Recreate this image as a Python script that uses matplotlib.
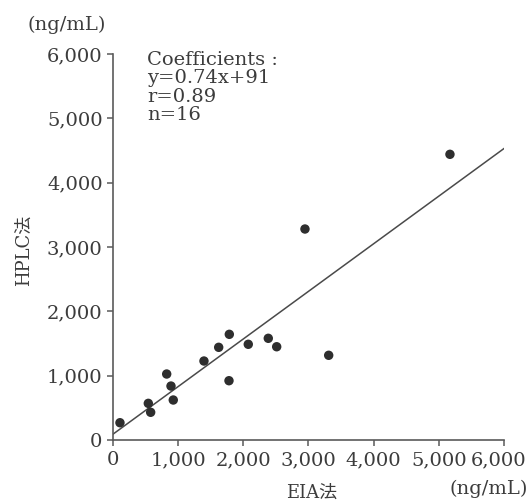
"""EIA vs HPLC method comparison scatter with regression line."""

import numpy as np
import matplotlib

matplotlib.use("Agg")
import matplotlib.pyplot as plt
import matplotlib.transforms as mtransforms

eia = [107, 542, 578, 824, 890, 925, 1396, 1622, 1785, 1780,
       2076, 2383, 2512, 3310, 2946, 5171]
hplc = [269, 570, 431, 1026, 839, 622, 1228, 1441, 1643, 922,
        1488, 1581, 1450, 1317, 3280, 4441]

slope, intercept = 0.74, 91
coef_lines = ["Coefficients :", "y=0.74x+91", "r=0.89", "n=16"]

ticks = [0, 1000, 2000, 3000, 4000, 5000, 6000]
tick_labels = ["0", "1,000", "2,000", "3,000", "4,000", "5,000", "6,000"]

ink = "#3c3c3c"
axis_col = "#5a5a5a"
fonts = ["DejaVu Serif", "Noto Sans CJK JP"]
plt.rcParams["font.family"] = fonts

fig = plt.figure(figsize=(5.29, 5.03), dpi=100)
ax = fig.add_axes([0.2136, 0.1252, 0.7391, 0.7674])

x_fit = np.array([ticks[0], ticks[-1]])
ax.plot(x_fit, slope * x_fit + intercept, color="#4a4a4a", lw=1.1, zorder=2)
ax.scatter(eia, hplc, s=46, color="#2e2e2e", edgecolors="none", zorder=3, clip_on=False)

ax.set_xlim(ticks[0], ticks[-1])
ax.set_ylim(ticks[0], ticks[-1])
ax.set_xticks(ticks)
ax.set_xticklabels(tick_labels)
ax.set_yticks(ticks)
ax.set_yticklabels(tick_labels)

for side in ("top", "right"):
    ax.spines[side].set_visible(False)
for side in ("left", "bottom"):
    ax.spines[side].set_color(axis_col)
    ax.spines[side].set_linewidth(1.2)

ax.tick_params(direction="out", length=4.5, width=1.1, color=axis_col,
               labelcolor=ink, labelsize=14)
ax.tick_params(axis="x", pad=3.5)
ax.tick_params(axis="y", pad=3)

# last x label sits right at the figure edge; nudge it inward a little
last = ax.get_xticklabels()[-1]
last.set_transform(last.get_transform()
                   + mtransforms.ScaledTranslation(-5 / 100, 0, fig.dpi_scale_trans))

# coefficient block, one line per entry
for i, line in enumerate(coef_lines):
    ax.text(520, 5907 - i * 285, line, fontsize=14, color=ink, va="center", ha="left")

fig.text(67 / 529, 1 - 25 / 503, "(ng/mL)", fontsize=14, color=ink, ha="center", va="center")
fig.text(489 / 529, 1 - 489 / 503, "(ng/mL)", fontsize=14, color=ink, ha="center", va="center")
fig.text(24 / 529, 1 - 250 / 503, "HPLC法", fontsize=13, color=ink, ha="center", va="center",
         rotation=90)
fig.text(312 / 529, 1 - 493 / 503, "EIA法", fontsize=13, color=ink, ha="center", va="center")

fig.savefig("out.png", dpi=100)
